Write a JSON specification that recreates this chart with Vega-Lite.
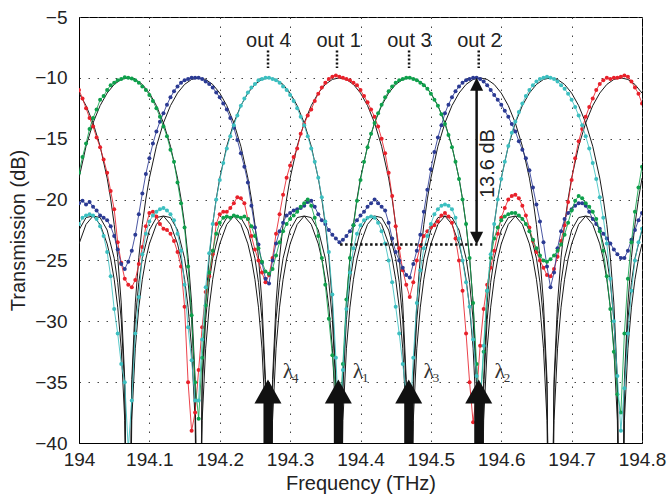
{
"$schema":"https://vega.github.io/schema/vega-lite/v6.json",
"width":563,"height":426,
"autosize":{"type":"none"},
"padding":{"left":79,"top":17,"right":26,"bottom":54},
"background":"white",
"config":{
"view":{"stroke":"#000","strokeWidth":1},
"axis":{"labelFont":"Liberation Sans","titleFont":"Liberation Sans","labelFontSize":19,"titleFontSize":20,"titleFontWeight":"normal","labelColor":"#222","titleColor":"#222","domainColor":"#000","grid":true,"gridColor":"#444","gridDash":[1.5,7.5],"gridWidth":1,"ticks":false,"tickSize":0,"labelFlush":false,"labelBound":false}
},
"datasets":{
"tg":[{"x":194,"y":-18.24},{"x":194.01,"y":-15.62},{"x":194.02,"y":-13.7},{"x":194.03,"y":-12.28},{"x":194.04,"y":-11.25},{"x":194.05,"y":-10.54},{"x":194.06,"y":-10.13},{"x":194.07,"y":-10},{"x":194.08,"y":-10.13},{"x":194.09,"y":-10.54},{"x":194.1,"y":-11.25},{"x":194.11,"y":-12.28},{"x":194.12,"y":-13.7},{"x":194.13,"y":-15.62},{"x":194.14,"y":-18.24},{"x":194.145,"y":-19.95},{"x":194.15,"y":-22.04},{"x":194.155,"y":-24.74},{"x":194.16,"y":-28.49},{"x":194.165,"y":-34.79},{"x":194.17,"y":-60},{"x":194.175,"y":-35.47},{"x":194.18,"y":-29.86},{"x":194.185,"y":-26.8},{"x":194.19,"y":-24.82},{"x":194.2,"y":-22.5},{"x":194.21,"y":-21.48},{"x":194.22,"y":-21.35},{"x":194.23,"y":-22.04},{"x":194.24,"y":-23.64},{"x":194.245,"y":-24.88},{"x":194.25,"y":-26.55},{"x":194.255,"y":-28.84},{"x":194.26,"y":-32.21},{"x":194.265,"y":-38.15},{"x":194.27,"y":-60},{"x":194.275,"y":-38.15},{"x":194.28,"y":-32.21},{"x":194.285,"y":-28.84},{"x":194.29,"y":-26.55},{"x":194.295,"y":-24.88},{"x":194.3,"y":-23.64},{"x":194.31,"y":-22.04},{"x":194.32,"y":-21.35},{"x":194.33,"y":-21.48},{"x":194.34,"y":-22.5},{"x":194.35,"y":-24.82},{"x":194.355,"y":-26.8},{"x":194.36,"y":-29.86},{"x":194.365,"y":-35.47},{"x":194.37,"y":-60},{"x":194.375,"y":-34.79},{"x":194.38,"y":-28.49},{"x":194.385,"y":-24.74},{"x":194.39,"y":-22.04},{"x":194.395,"y":-19.95},{"x":194.4,"y":-18.24},{"x":194.41,"y":-15.62},{"x":194.42,"y":-13.7},{"x":194.43,"y":-12.28},{"x":194.44,"y":-11.25},{"x":194.45,"y":-10.54},{"x":194.46,"y":-10.13},{"x":194.47,"y":-10},{"x":194.48,"y":-10.13},{"x":194.49,"y":-10.54},{"x":194.5,"y":-11.25},{"x":194.51,"y":-12.28},{"x":194.52,"y":-13.7},{"x":194.53,"y":-15.62},{"x":194.54,"y":-18.24},{"x":194.545,"y":-19.95},{"x":194.55,"y":-22.04},{"x":194.555,"y":-24.74},{"x":194.56,"y":-28.49},{"x":194.565,"y":-34.79},{"x":194.57,"y":-60},{"x":194.575,"y":-35.47},{"x":194.58,"y":-29.86},{"x":194.585,"y":-26.8},{"x":194.59,"y":-24.82},{"x":194.6,"y":-22.5},{"x":194.61,"y":-21.48},{"x":194.62,"y":-21.35},{"x":194.63,"y":-22.04},{"x":194.64,"y":-23.64},{"x":194.645,"y":-24.88},{"x":194.65,"y":-26.55},{"x":194.655,"y":-28.84},{"x":194.66,"y":-32.21},{"x":194.665,"y":-38.15},{"x":194.67,"y":-60},{"x":194.675,"y":-38.15},{"x":194.68,"y":-32.21},{"x":194.685,"y":-28.84},{"x":194.69,"y":-26.55},{"x":194.695,"y":-24.88},{"x":194.7,"y":-23.64},{"x":194.71,"y":-22.04},{"x":194.72,"y":-21.35},{"x":194.73,"y":-21.48},{"x":194.74,"y":-22.5},{"x":194.75,"y":-24.82},{"x":194.755,"y":-26.8},{"x":194.76,"y":-29.86},{"x":194.765,"y":-35.47},{"x":194.77,"y":-60},{"x":194.775,"y":-34.79},{"x":194.78,"y":-28.49},{"x":194.785,"y":-24.74},{"x":194.79,"y":-22.04},{"x":194.795,"y":-19.95},{"x":194.8,"y":-18.24}],
"tb":[{"x":194,"y":-23.64},{"x":194.01,"y":-22.04},{"x":194.02,"y":-21.35},{"x":194.03,"y":-21.48},{"x":194.04,"y":-22.5},{"x":194.05,"y":-24.82},{"x":194.055,"y":-26.8},{"x":194.06,"y":-29.86},{"x":194.065,"y":-35.47},{"x":194.07,"y":-60},{"x":194.075,"y":-34.79},{"x":194.08,"y":-28.49},{"x":194.085,"y":-24.74},{"x":194.09,"y":-22.04},{"x":194.095,"y":-19.95},{"x":194.1,"y":-18.24},{"x":194.11,"y":-15.62},{"x":194.12,"y":-13.7},{"x":194.13,"y":-12.28},{"x":194.14,"y":-11.25},{"x":194.15,"y":-10.54},{"x":194.16,"y":-10.13},{"x":194.17,"y":-10},{"x":194.18,"y":-10.13},{"x":194.19,"y":-10.54},{"x":194.2,"y":-11.25},{"x":194.21,"y":-12.28},{"x":194.22,"y":-13.7},{"x":194.23,"y":-15.62},{"x":194.24,"y":-18.24},{"x":194.245,"y":-19.95},{"x":194.25,"y":-22.04},{"x":194.255,"y":-24.74},{"x":194.26,"y":-28.49},{"x":194.265,"y":-34.79},{"x":194.27,"y":-60},{"x":194.275,"y":-35.47},{"x":194.28,"y":-29.86},{"x":194.285,"y":-26.8},{"x":194.29,"y":-24.82},{"x":194.3,"y":-22.5},{"x":194.31,"y":-21.48},{"x":194.32,"y":-21.35},{"x":194.33,"y":-22.04},{"x":194.34,"y":-23.64},{"x":194.345,"y":-24.88},{"x":194.35,"y":-26.55},{"x":194.355,"y":-28.84},{"x":194.36,"y":-32.21},{"x":194.365,"y":-38.15},{"x":194.37,"y":-60},{"x":194.375,"y":-38.15},{"x":194.38,"y":-32.21},{"x":194.385,"y":-28.84},{"x":194.39,"y":-26.55},{"x":194.395,"y":-24.88},{"x":194.4,"y":-23.64},{"x":194.41,"y":-22.04},{"x":194.42,"y":-21.35},{"x":194.43,"y":-21.48},{"x":194.44,"y":-22.5},{"x":194.45,"y":-24.82},{"x":194.455,"y":-26.8},{"x":194.46,"y":-29.86},{"x":194.465,"y":-35.47},{"x":194.47,"y":-60},{"x":194.475,"y":-34.79},{"x":194.48,"y":-28.49},{"x":194.485,"y":-24.74},{"x":194.49,"y":-22.04},{"x":194.495,"y":-19.95},{"x":194.5,"y":-18.24},{"x":194.51,"y":-15.62},{"x":194.52,"y":-13.7},{"x":194.53,"y":-12.28},{"x":194.54,"y":-11.25},{"x":194.55,"y":-10.54},{"x":194.56,"y":-10.13},{"x":194.57,"y":-10},{"x":194.58,"y":-10.13},{"x":194.59,"y":-10.54},{"x":194.6,"y":-11.25},{"x":194.61,"y":-12.28},{"x":194.62,"y":-13.7},{"x":194.63,"y":-15.62},{"x":194.64,"y":-18.24},{"x":194.645,"y":-19.95},{"x":194.65,"y":-22.04},{"x":194.655,"y":-24.74},{"x":194.66,"y":-28.49},{"x":194.665,"y":-34.79},{"x":194.67,"y":-60},{"x":194.675,"y":-35.47},{"x":194.68,"y":-29.86},{"x":194.685,"y":-26.8},{"x":194.69,"y":-24.82},{"x":194.7,"y":-22.5},{"x":194.71,"y":-21.48},{"x":194.72,"y":-21.35},{"x":194.73,"y":-22.04},{"x":194.74,"y":-23.64},{"x":194.745,"y":-24.88},{"x":194.75,"y":-26.55},{"x":194.755,"y":-28.84},{"x":194.76,"y":-32.21},{"x":194.765,"y":-38.15},{"x":194.77,"y":-60},{"x":194.775,"y":-38.15},{"x":194.78,"y":-32.21},{"x":194.785,"y":-28.84},{"x":194.79,"y":-26.55},{"x":194.795,"y":-24.88},{"x":194.8,"y":-23.64}],
"tc":[{"x":194,"y":-22.5},{"x":194.01,"y":-21.48},{"x":194.02,"y":-21.35},{"x":194.03,"y":-22.04},{"x":194.04,"y":-23.64},{"x":194.045,"y":-24.88},{"x":194.05,"y":-26.55},{"x":194.055,"y":-28.84},{"x":194.06,"y":-32.21},{"x":194.065,"y":-38.15},{"x":194.07,"y":-60},{"x":194.075,"y":-38.15},{"x":194.08,"y":-32.21},{"x":194.085,"y":-28.84},{"x":194.09,"y":-26.55},{"x":194.095,"y":-24.88},{"x":194.1,"y":-23.64},{"x":194.11,"y":-22.04},{"x":194.12,"y":-21.35},{"x":194.13,"y":-21.48},{"x":194.14,"y":-22.5},{"x":194.15,"y":-24.82},{"x":194.155,"y":-26.8},{"x":194.16,"y":-29.86},{"x":194.165,"y":-35.47},{"x":194.17,"y":-60},{"x":194.175,"y":-34.79},{"x":194.18,"y":-28.49},{"x":194.185,"y":-24.74},{"x":194.19,"y":-22.04},{"x":194.195,"y":-19.95},{"x":194.2,"y":-18.24},{"x":194.21,"y":-15.62},{"x":194.22,"y":-13.7},{"x":194.23,"y":-12.28},{"x":194.24,"y":-11.25},{"x":194.25,"y":-10.54},{"x":194.26,"y":-10.13},{"x":194.27,"y":-10},{"x":194.28,"y":-10.13},{"x":194.29,"y":-10.54},{"x":194.3,"y":-11.25},{"x":194.31,"y":-12.28},{"x":194.32,"y":-13.7},{"x":194.33,"y":-15.62},{"x":194.34,"y":-18.24},{"x":194.345,"y":-19.95},{"x":194.35,"y":-22.04},{"x":194.355,"y":-24.74},{"x":194.36,"y":-28.49},{"x":194.365,"y":-34.79},{"x":194.37,"y":-60},{"x":194.375,"y":-35.47},{"x":194.38,"y":-29.86},{"x":194.385,"y":-26.8},{"x":194.39,"y":-24.82},{"x":194.4,"y":-22.5},{"x":194.41,"y":-21.48},{"x":194.42,"y":-21.35},{"x":194.43,"y":-22.04},{"x":194.44,"y":-23.64},{"x":194.445,"y":-24.88},{"x":194.45,"y":-26.55},{"x":194.455,"y":-28.84},{"x":194.46,"y":-32.21},{"x":194.465,"y":-38.15},{"x":194.47,"y":-60},{"x":194.475,"y":-38.15},{"x":194.48,"y":-32.21},{"x":194.485,"y":-28.84},{"x":194.49,"y":-26.55},{"x":194.495,"y":-24.88},{"x":194.5,"y":-23.64},{"x":194.51,"y":-22.04},{"x":194.52,"y":-21.35},{"x":194.53,"y":-21.48},{"x":194.54,"y":-22.5},{"x":194.55,"y":-24.82},{"x":194.555,"y":-26.8},{"x":194.56,"y":-29.86},{"x":194.565,"y":-35.47},{"x":194.57,"y":-60},{"x":194.575,"y":-34.79},{"x":194.58,"y":-28.49},{"x":194.585,"y":-24.74},{"x":194.59,"y":-22.04},{"x":194.595,"y":-19.95},{"x":194.6,"y":-18.24},{"x":194.61,"y":-15.62},{"x":194.62,"y":-13.7},{"x":194.63,"y":-12.28},{"x":194.64,"y":-11.25},{"x":194.65,"y":-10.54},{"x":194.66,"y":-10.13},{"x":194.67,"y":-10},{"x":194.68,"y":-10.13},{"x":194.69,"y":-10.54},{"x":194.7,"y":-11.25},{"x":194.71,"y":-12.28},{"x":194.72,"y":-13.7},{"x":194.73,"y":-15.62},{"x":194.74,"y":-18.24},{"x":194.745,"y":-19.95},{"x":194.75,"y":-22.04},{"x":194.755,"y":-24.74},{"x":194.76,"y":-28.49},{"x":194.765,"y":-34.79},{"x":194.77,"y":-60},{"x":194.775,"y":-35.47},{"x":194.78,"y":-29.86},{"x":194.785,"y":-26.8},{"x":194.79,"y":-24.82},{"x":194.8,"y":-22.5}],
"tr":[{"x":194,"y":-11.25},{"x":194.01,"y":-12.28},{"x":194.02,"y":-13.7},{"x":194.03,"y":-15.62},{"x":194.04,"y":-18.24},{"x":194.045,"y":-19.95},{"x":194.05,"y":-22.04},{"x":194.055,"y":-24.74},{"x":194.06,"y":-28.49},{"x":194.065,"y":-34.79},{"x":194.07,"y":-60},{"x":194.075,"y":-35.47},{"x":194.08,"y":-29.86},{"x":194.085,"y":-26.8},{"x":194.09,"y":-24.82},{"x":194.1,"y":-22.5},{"x":194.11,"y":-21.48},{"x":194.12,"y":-21.35},{"x":194.13,"y":-22.04},{"x":194.14,"y":-23.64},{"x":194.145,"y":-24.88},{"x":194.15,"y":-26.55},{"x":194.155,"y":-28.84},{"x":194.16,"y":-32.21},{"x":194.165,"y":-38.15},{"x":194.17,"y":-60},{"x":194.175,"y":-38.15},{"x":194.18,"y":-32.21},{"x":194.185,"y":-28.84},{"x":194.19,"y":-26.55},{"x":194.195,"y":-24.88},{"x":194.2,"y":-23.64},{"x":194.21,"y":-22.04},{"x":194.22,"y":-21.35},{"x":194.23,"y":-21.48},{"x":194.24,"y":-22.5},{"x":194.25,"y":-24.82},{"x":194.255,"y":-26.8},{"x":194.26,"y":-29.86},{"x":194.265,"y":-35.47},{"x":194.27,"y":-60},{"x":194.275,"y":-34.79},{"x":194.28,"y":-28.49},{"x":194.285,"y":-24.74},{"x":194.29,"y":-22.04},{"x":194.295,"y":-19.95},{"x":194.3,"y":-18.24},{"x":194.31,"y":-15.62},{"x":194.32,"y":-13.7},{"x":194.33,"y":-12.28},{"x":194.34,"y":-11.25},{"x":194.35,"y":-10.54},{"x":194.36,"y":-10.13},{"x":194.37,"y":-10},{"x":194.38,"y":-10.13},{"x":194.39,"y":-10.54},{"x":194.4,"y":-11.25},{"x":194.41,"y":-12.28},{"x":194.42,"y":-13.7},{"x":194.43,"y":-15.62},{"x":194.44,"y":-18.24},{"x":194.445,"y":-19.95},{"x":194.45,"y":-22.04},{"x":194.455,"y":-24.74},{"x":194.46,"y":-28.49},{"x":194.465,"y":-34.79},{"x":194.47,"y":-60},{"x":194.475,"y":-35.47},{"x":194.48,"y":-29.86},{"x":194.485,"y":-26.8},{"x":194.49,"y":-24.82},{"x":194.5,"y":-22.5},{"x":194.51,"y":-21.48},{"x":194.52,"y":-21.35},{"x":194.53,"y":-22.04},{"x":194.54,"y":-23.64},{"x":194.545,"y":-24.88},{"x":194.55,"y":-26.55},{"x":194.555,"y":-28.84},{"x":194.56,"y":-32.21},{"x":194.565,"y":-38.15},{"x":194.57,"y":-60},{"x":194.575,"y":-38.15},{"x":194.58,"y":-32.21},{"x":194.585,"y":-28.84},{"x":194.59,"y":-26.55},{"x":194.595,"y":-24.88},{"x":194.6,"y":-23.64},{"x":194.61,"y":-22.04},{"x":194.62,"y":-21.35},{"x":194.63,"y":-21.48},{"x":194.64,"y":-22.5},{"x":194.65,"y":-24.82},{"x":194.655,"y":-26.8},{"x":194.66,"y":-29.86},{"x":194.665,"y":-35.47},{"x":194.67,"y":-60},{"x":194.675,"y":-34.79},{"x":194.68,"y":-28.49},{"x":194.685,"y":-24.74},{"x":194.69,"y":-22.04},{"x":194.695,"y":-19.95},{"x":194.7,"y":-18.24},{"x":194.71,"y":-15.62},{"x":194.72,"y":-13.7},{"x":194.73,"y":-12.28},{"x":194.74,"y":-11.25},{"x":194.75,"y":-10.54},{"x":194.76,"y":-10.13},{"x":194.77,"y":-10},{"x":194.78,"y":-10.13},{"x":194.79,"y":-10.54},{"x":194.8,"y":-11.25}],
"eg":[{"x":194,"y":-17.8},{"x":194.005,"y":-16.5},{"x":194.01,"y":-15.4},{"x":194.015,"y":-14.2},{"x":194.02,"y":-13.3},{"x":194.025,"y":-12.6},{"x":194.03,"y":-11.8},{"x":194.035,"y":-11.5},{"x":194.04,"y":-11},{"x":194.045,"y":-10.6},{"x":194.05,"y":-10.4},{"x":194.055,"y":-10.2},{"x":194.06,"y":-10.1},{"x":194.065,"y":-9.95},{"x":194.07,"y":-10},{"x":194.075,"y":-10.05},{"x":194.08,"y":-10.2},{"x":194.085,"y":-10.4},{"x":194.09,"y":-10.7},{"x":194.095,"y":-11},{"x":194.1,"y":-11.4},{"x":194.105,"y":-11.9},{"x":194.11,"y":-12.5},{"x":194.115,"y":-13.2},{"x":194.12,"y":-14},{"x":194.125,"y":-14.8},{"x":194.13,"y":-15.9},{"x":194.135,"y":-16.9},{"x":194.14,"y":-18.6},{"x":194.145,"y":-20.3},{"x":194.15,"y":-22.3},{"x":194.155,"y":-25.5},{"x":194.16,"y":-29.5},{"x":194.165,"y":-35},{"x":194.17,"y":-38},{"x":194.175,"y":-33},{"x":194.18,"y":-28.7},{"x":194.185,"y":-26},{"x":194.19,"y":-24.2},{"x":194.195,"y":-22.8},{"x":194.2,"y":-21.9},{"x":194.205,"y":-21.5},{"x":194.21,"y":-21.4},{"x":194.215,"y":-21.5},{"x":194.22,"y":-21.3},{"x":194.225,"y":-21.4},{"x":194.23,"y":-21.5},{"x":194.235,"y":-21.4},{"x":194.24,"y":-21.6},{"x":194.245,"y":-22.2},{"x":194.25,"y":-23},{"x":194.255,"y":-24},{"x":194.26,"y":-25.1},{"x":194.265,"y":-25.9},{"x":194.27,"y":-26.1},{"x":194.275,"y":-25.7},{"x":194.28,"y":-24.6},{"x":194.285,"y":-23.5},{"x":194.29,"y":-22.6},{"x":194.295,"y":-22},{"x":194.3,"y":-21.6},{"x":194.305,"y":-21.3},{"x":194.31,"y":-21},{"x":194.315,"y":-20.6},{"x":194.32,"y":-20.3},{"x":194.325,"y":-20},{"x":194.33,"y":-20.5},{"x":194.335,"y":-21.5},{"x":194.34,"y":-23},{"x":194.345,"y":-24.8},{"x":194.35,"y":-27},{"x":194.355,"y":-29.8},{"x":194.36,"y":-32.8},{"x":194.365,"y":-35.8},{"x":194.37,"y":-38.5},{"x":194.375,"y":-33.5},{"x":194.38,"y":-28.2},{"x":194.385,"y":-24.8},{"x":194.39,"y":-22.1},{"x":194.395,"y":-20.1},{"x":194.4,"y":-18.4},{"x":194.405,"y":-16.9},{"x":194.41,"y":-15.7},{"x":194.415,"y":-14.6},{"x":194.42,"y":-13.7},{"x":194.425,"y":-12.9},{"x":194.43,"y":-12.2},{"x":194.435,"y":-11.6},{"x":194.44,"y":-11.1},{"x":194.445,"y":-10.7},{"x":194.45,"y":-10.4},{"x":194.455,"y":-10.2},{"x":194.46,"y":-10.1},{"x":194.465,"y":-10},{"x":194.47,"y":-10},{"x":194.475,"y":-10.1},{"x":194.48,"y":-10.2},{"x":194.485,"y":-10.4},{"x":194.49,"y":-10.6},{"x":194.495,"y":-10.9},{"x":194.5,"y":-11.3},{"x":194.505,"y":-11.8},{"x":194.51,"y":-12.3},{"x":194.515,"y":-13},{"x":194.52,"y":-13.8},{"x":194.525,"y":-14.7},{"x":194.53,"y":-15.7},{"x":194.535,"y":-16.9},{"x":194.54,"y":-18.3},{"x":194.545,"y":-20},{"x":194.55,"y":-22},{"x":194.555,"y":-24.8},{"x":194.56,"y":-28.5},{"x":194.565,"y":-33.5},{"x":194.57,"y":-37},{"x":194.575,"y":-32.5},{"x":194.58,"y":-27.5},{"x":194.585,"y":-24.8},{"x":194.59,"y":-23.2},{"x":194.595,"y":-22.3},{"x":194.6,"y":-21.7},{"x":194.605,"y":-21.4},{"x":194.61,"y":-21.2},{"x":194.615,"y":-21.1},{"x":194.62,"y":-21.1},{"x":194.625,"y":-21.3},{"x":194.63,"y":-21.6},{"x":194.635,"y":-22},{"x":194.64,"y":-22.6},{"x":194.645,"y":-23.3},{"x":194.65,"y":-24},{"x":194.655,"y":-24.6},{"x":194.66,"y":-25},{"x":194.665,"y":-25.1},{"x":194.67,"y":-24.9},{"x":194.675,"y":-24.6},{"x":194.68,"y":-24.2},{"x":194.685,"y":-23.7},{"x":194.69,"y":-22.9},{"x":194.695,"y":-21.9},{"x":194.7,"y":-20.9},{"x":194.705,"y":-20.1},{"x":194.71,"y":-19.7},{"x":194.715,"y":-19.9},{"x":194.72,"y":-20.3},{"x":194.725,"y":-20.6},{"x":194.73,"y":-21},{"x":194.735,"y":-21.6},{"x":194.74,"y":-22.6},{"x":194.745,"y":-24.2},{"x":194.75,"y":-26.3},{"x":194.755,"y":-29},{"x":194.76,"y":-32.5},{"x":194.765,"y":-36},{"x":194.77,"y":-37.5},{"x":194.775,"y":-31},{"x":194.78,"y":-26.5},{"x":194.785,"y":-23.5},{"x":194.79,"y":-21},{"x":194.795,"y":-19},{"x":194.8,"y":-17.3}],
"eb":[{"x":194,"y":-20.3},{"x":194.005,"y":-20.1},{"x":194.01,"y":-20.4},{"x":194.015,"y":-20.2},{"x":194.02,"y":-20.6},{"x":194.025,"y":-20.9},{"x":194.03,"y":-21.3},{"x":194.035,"y":-21.5},{"x":194.04,"y":-21.7},{"x":194.045,"y":-22.2},{"x":194.05,"y":-23},{"x":194.055,"y":-24.1},{"x":194.06,"y":-25.3},{"x":194.065,"y":-25.7},{"x":194.07,"y":-25.1},{"x":194.075,"y":-24.2},{"x":194.08,"y":-22.9},{"x":194.085,"y":-21.2},{"x":194.09,"y":-19.5},{"x":194.095,"y":-17.9},{"x":194.1,"y":-16.6},{"x":194.105,"y":-15.4},{"x":194.11,"y":-14.4},{"x":194.115,"y":-13.6},{"x":194.12,"y":-12.9},{"x":194.125,"y":-12.2},{"x":194.13,"y":-11.6},{"x":194.135,"y":-11.1},{"x":194.14,"y":-10.7},{"x":194.145,"y":-10.4},{"x":194.15,"y":-10.2},{"x":194.155,"y":-10.1},{"x":194.16,"y":-10},{"x":194.165,"y":-10},{"x":194.17,"y":-10},{"x":194.175,"y":-10.1},{"x":194.18,"y":-10.3},{"x":194.185,"y":-10.5},{"x":194.19,"y":-10.8},{"x":194.195,"y":-11.2},{"x":194.2,"y":-11.6},{"x":194.205,"y":-12.1},{"x":194.21,"y":-12.6},{"x":194.215,"y":-13.3},{"x":194.22,"y":-14.1},{"x":194.225,"y":-15.1},{"x":194.23,"y":-16.2},{"x":194.235,"y":-17.3},{"x":194.24,"y":-18.6},{"x":194.245,"y":-20.5},{"x":194.25,"y":-22.3},{"x":194.255,"y":-23.7},{"x":194.26,"y":-25.2},{"x":194.265,"y":-26.5},{"x":194.27,"y":-26.9},{"x":194.275,"y":-25},{"x":194.28,"y":-23.6},{"x":194.285,"y":-22.6},{"x":194.29,"y":-21.9},{"x":194.295,"y":-21.3},{"x":194.3,"y":-21.1},{"x":194.305,"y":-20.9},{"x":194.31,"y":-20.8},{"x":194.315,"y":-20.7},{"x":194.32,"y":-20.5},{"x":194.325,"y":-20.2},{"x":194.33,"y":-20.1},{"x":194.335,"y":-20.6},{"x":194.34,"y":-21.2},{"x":194.345,"y":-21.7},{"x":194.35,"y":-22},{"x":194.355,"y":-22.5},{"x":194.36,"y":-22.9},{"x":194.365,"y":-23.2},{"x":194.37,"y":-23.5},{"x":194.375,"y":-23.3},{"x":194.38,"y":-23},{"x":194.385,"y":-22.6},{"x":194.39,"y":-22.1},{"x":194.395,"y":-21.7},{"x":194.4,"y":-21.3},{"x":194.405,"y":-21},{"x":194.41,"y":-20.6},{"x":194.415,"y":-20.3},{"x":194.42,"y":-20},{"x":194.425,"y":-20.3},{"x":194.43,"y":-20.6},{"x":194.435,"y":-20.9},{"x":194.44,"y":-21.9},{"x":194.445,"y":-23.2},{"x":194.45,"y":-24.3},{"x":194.455,"y":-25},{"x":194.46,"y":-25.6},{"x":194.465,"y":-26.2},{"x":194.47,"y":-26.4},{"x":194.475,"y":-25.3},{"x":194.48,"y":-24.2},{"x":194.485,"y":-22.9},{"x":194.49,"y":-21},{"x":194.495,"y":-19.2},{"x":194.5,"y":-17.5},{"x":194.505,"y":-16.1},{"x":194.51,"y":-14.9},{"x":194.515,"y":-13.9},{"x":194.52,"y":-12.9},{"x":194.525,"y":-12.2},{"x":194.53,"y":-11.6},{"x":194.535,"y":-11.1},{"x":194.54,"y":-10.7},{"x":194.545,"y":-10.4},{"x":194.55,"y":-10.2},{"x":194.555,"y":-10.1},{"x":194.56,"y":-10},{"x":194.565,"y":-10},{"x":194.57,"y":-10.1},{"x":194.575,"y":-10.3},{"x":194.58,"y":-10.6},{"x":194.585,"y":-11},{"x":194.59,"y":-11.4},{"x":194.595,"y":-11.8},{"x":194.6,"y":-12.2},{"x":194.605,"y":-12.7},{"x":194.61,"y":-13.2},{"x":194.615,"y":-13.8},{"x":194.62,"y":-14.4},{"x":194.625,"y":-15.2},{"x":194.63,"y":-15.9},{"x":194.635,"y":-16.6},{"x":194.64,"y":-17.6},{"x":194.645,"y":-19},{"x":194.65,"y":-20.4},{"x":194.655,"y":-21.8},{"x":194.66,"y":-23.5},{"x":194.665,"y":-25.5},{"x":194.67,"y":-27.2},{"x":194.675,"y":-26},{"x":194.68,"y":-24},{"x":194.685,"y":-22.6},{"x":194.69,"y":-21.6},{"x":194.695,"y":-21.1},{"x":194.7,"y":-20.8},{"x":194.705,"y":-20.5},{"x":194.71,"y":-20.3},{"x":194.715,"y":-20.3},{"x":194.72,"y":-20.5},{"x":194.725,"y":-21},{"x":194.73,"y":-21.6},{"x":194.735,"y":-22},{"x":194.74,"y":-22.4},{"x":194.745,"y":-22.8},{"x":194.75,"y":-23.2},{"x":194.755,"y":-23.6},{"x":194.76,"y":-24.1},{"x":194.765,"y":-24.5},{"x":194.77,"y":-24.8},{"x":194.775,"y":-24.8},{"x":194.78,"y":-24.2},{"x":194.785,"y":-23.3},{"x":194.79,"y":-22.5},{"x":194.795,"y":-21.7},{"x":194.8,"y":-21.1}],
"ec":[{"x":194,"y":-22},{"x":194.005,"y":-21.5},{"x":194.01,"y":-21.3},{"x":194.015,"y":-21.2},{"x":194.02,"y":-21.3},{"x":194.025,"y":-21.6},{"x":194.03,"y":-22.2},{"x":194.035,"y":-23},{"x":194.04,"y":-24.3},{"x":194.045,"y":-26.3},{"x":194.05,"y":-29},{"x":194.055,"y":-31},{"x":194.06,"y":-33.5},{"x":194.065,"y":-35},{"x":194.07,"y":-40.5},{"x":194.075,"y":-36.5},{"x":194.08,"y":-31},{"x":194.085,"y":-28},{"x":194.09,"y":-24.5},{"x":194.095,"y":-22.8},{"x":194.1,"y":-21.8},{"x":194.105,"y":-21.3},{"x":194.11,"y":-21},{"x":194.115,"y":-20.8},{"x":194.12,"y":-20.7},{"x":194.125,"y":-20.9},{"x":194.13,"y":-21.2},{"x":194.135,"y":-21.7},{"x":194.14,"y":-22.8},{"x":194.145,"y":-24.2},{"x":194.15,"y":-27},{"x":194.155,"y":-30.5},{"x":194.16,"y":-33.2},{"x":194.165,"y":-36.5},{"x":194.17,"y":-36.5},{"x":194.175,"y":-31.5},{"x":194.18,"y":-27.2},{"x":194.185,"y":-24.4},{"x":194.19,"y":-22},{"x":194.195,"y":-20},{"x":194.2,"y":-18.4},{"x":194.205,"y":-17},{"x":194.21,"y":-15.8},{"x":194.215,"y":-14.8},{"x":194.22,"y":-13.9},{"x":194.225,"y":-13.1},{"x":194.23,"y":-12.3},{"x":194.235,"y":-11.7},{"x":194.24,"y":-11.2},{"x":194.245,"y":-10.8},{"x":194.25,"y":-10.5},{"x":194.255,"y":-10.2},{"x":194.26,"y":-10.1},{"x":194.265,"y":-10},{"x":194.27,"y":-10},{"x":194.275,"y":-10.1},{"x":194.28,"y":-10.2},{"x":194.285,"y":-10.4},{"x":194.29,"y":-10.7},{"x":194.295,"y":-11},{"x":194.3,"y":-11.4},{"x":194.305,"y":-11.9},{"x":194.31,"y":-12.5},{"x":194.315,"y":-13.2},{"x":194.32,"y":-13.9},{"x":194.325,"y":-14.8},{"x":194.33,"y":-15.8},{"x":194.335,"y":-16.9},{"x":194.34,"y":-18.2},{"x":194.345,"y":-19.8},{"x":194.35,"y":-21.8},{"x":194.355,"y":-24.3},{"x":194.36,"y":-27.8},{"x":194.365,"y":-33},{"x":194.37,"y":-39},{"x":194.375,"y":-34},{"x":194.38,"y":-29},{"x":194.385,"y":-26},{"x":194.39,"y":-24},{"x":194.395,"y":-22.8},{"x":194.4,"y":-22.1},{"x":194.405,"y":-21.7},{"x":194.41,"y":-21.5},{"x":194.415,"y":-21.4},{"x":194.42,"y":-21.5},{"x":194.425,"y":-21.9},{"x":194.43,"y":-22.6},{"x":194.435,"y":-23.6},{"x":194.44,"y":-25},{"x":194.445,"y":-26.8},{"x":194.45,"y":-28.8},{"x":194.455,"y":-31},{"x":194.46,"y":-33.5},{"x":194.465,"y":-36},{"x":194.47,"y":-38.5},{"x":194.475,"y":-33},{"x":194.48,"y":-28.5},{"x":194.485,"y":-25.8},{"x":194.49,"y":-24},{"x":194.495,"y":-23},{"x":194.5,"y":-22},{"x":194.505,"y":-21.2},{"x":194.51,"y":-20.8},{"x":194.515,"y":-20.5},{"x":194.52,"y":-20.4},{"x":194.525,"y":-20.5},{"x":194.53,"y":-20.8},{"x":194.535,"y":-21.5},{"x":194.54,"y":-23.2},{"x":194.545,"y":-25},{"x":194.55,"y":-26.8},{"x":194.555,"y":-28.8},{"x":194.56,"y":-31.5},{"x":194.565,"y":-34.5},{"x":194.57,"y":-36.8},{"x":194.575,"y":-32},{"x":194.58,"y":-27.5},{"x":194.585,"y":-24.5},{"x":194.59,"y":-22},{"x":194.595,"y":-20},{"x":194.6,"y":-18.3},{"x":194.605,"y":-16.9},{"x":194.61,"y":-15.6},{"x":194.615,"y":-14.5},{"x":194.62,"y":-13.6},{"x":194.625,"y":-12.8},{"x":194.63,"y":-12.1},{"x":194.635,"y":-11.5},{"x":194.64,"y":-11},{"x":194.645,"y":-10.6},{"x":194.65,"y":-10.3},{"x":194.655,"y":-10.1},{"x":194.66,"y":-10},{"x":194.665,"y":-9.9},{"x":194.67,"y":-10},{"x":194.675,"y":-10.1},{"x":194.68,"y":-10.3},{"x":194.685,"y":-10.6},{"x":194.69,"y":-10.9},{"x":194.695,"y":-11.3},{"x":194.7,"y":-11.8},{"x":194.705,"y":-12.4},{"x":194.71,"y":-13.1},{"x":194.715,"y":-13.9},{"x":194.72,"y":-14.8},{"x":194.725,"y":-15.8},{"x":194.73,"y":-17},{"x":194.735,"y":-18.3},{"x":194.74,"y":-19.8},{"x":194.745,"y":-21.5},{"x":194.75,"y":-23.6},{"x":194.755,"y":-26.5},{"x":194.76,"y":-30},{"x":194.765,"y":-34.5},{"x":194.77,"y":-39},{"x":194.775,"y":-35.5},{"x":194.78,"y":-31},{"x":194.785,"y":-27.5},{"x":194.79,"y":-25},{"x":194.795,"y":-23.5},{"x":194.8,"y":-22.4}],
"er":[{"x":194,"y":-11},{"x":194.005,"y":-11.7},{"x":194.01,"y":-12.5},{"x":194.015,"y":-13.3},{"x":194.02,"y":-14},{"x":194.025,"y":-14.9},{"x":194.03,"y":-15.7},{"x":194.035,"y":-16.7},{"x":194.04,"y":-17.8},{"x":194.045,"y":-19.3},{"x":194.05,"y":-20.8},{"x":194.055,"y":-23.5},{"x":194.06,"y":-25.2},{"x":194.065,"y":-26.5},{"x":194.07,"y":-27},{"x":194.075,"y":-27.2},{"x":194.08,"y":-26.6},{"x":194.085,"y":-25.3},{"x":194.09,"y":-23.9},{"x":194.095,"y":-22.2},{"x":194.1,"y":-21.1},{"x":194.105,"y":-21},{"x":194.11,"y":-21.4},{"x":194.115,"y":-22},{"x":194.12,"y":-22.4},{"x":194.125,"y":-22.5},{"x":194.13,"y":-22.8},{"x":194.135,"y":-23.4},{"x":194.14,"y":-24.3},{"x":194.145,"y":-25.5},{"x":194.15,"y":-28.8},{"x":194.155,"y":-35},{"x":194.16,"y":-39},{"x":194.165,"y":-37.5},{"x":194.17,"y":-34},{"x":194.175,"y":-30.5},{"x":194.18,"y":-27.6},{"x":194.185,"y":-26.3},{"x":194.19,"y":-24.5},{"x":194.195,"y":-22},{"x":194.2,"y":-21.2},{"x":194.205,"y":-21},{"x":194.21,"y":-21},{"x":194.215,"y":-20.7},{"x":194.22,"y":-20.3},{"x":194.225,"y":-19.8},{"x":194.23,"y":-19.9},{"x":194.235,"y":-20.3},{"x":194.24,"y":-21.6},{"x":194.245,"y":-23},{"x":194.25,"y":-24.1},{"x":194.255,"y":-25},{"x":194.26,"y":-26},{"x":194.265,"y":-26.8},{"x":194.27,"y":-26.2},{"x":194.275,"y":-24.8},{"x":194.28,"y":-22.8},{"x":194.285,"y":-21.2},{"x":194.29,"y":-19.6},{"x":194.295,"y":-18.2},{"x":194.3,"y":-17.2},{"x":194.305,"y":-16.5},{"x":194.31,"y":-15.8},{"x":194.315,"y":-14.6},{"x":194.32,"y":-13.8},{"x":194.325,"y":-13.1},{"x":194.33,"y":-12.6},{"x":194.335,"y":-11.9},{"x":194.34,"y":-11.3},{"x":194.345,"y":-10.8},{"x":194.35,"y":-10.4},{"x":194.355,"y":-10.1},{"x":194.36,"y":-9.9},{"x":194.365,"y":-9.8},{"x":194.37,"y":-9.9},{"x":194.375,"y":-10},{"x":194.38,"y":-10.1},{"x":194.385,"y":-10.2},{"x":194.39,"y":-10.4},{"x":194.395,"y":-10.6},{"x":194.4,"y":-11},{"x":194.405,"y":-11.5},{"x":194.41,"y":-12},{"x":194.415,"y":-12.6},{"x":194.42,"y":-13.2},{"x":194.425,"y":-14},{"x":194.43,"y":-15},{"x":194.435,"y":-16.2},{"x":194.44,"y":-17.8},{"x":194.445,"y":-19.7},{"x":194.45,"y":-22.2},{"x":194.455,"y":-24},{"x":194.46,"y":-25.8},{"x":194.465,"y":-27},{"x":194.47,"y":-28},{"x":194.475,"y":-26.8},{"x":194.48,"y":-25},{"x":194.485,"y":-23.8},{"x":194.49,"y":-23},{"x":194.495,"y":-22.6},{"x":194.5,"y":-22.3},{"x":194.505,"y":-22.1},{"x":194.51,"y":-21.8},{"x":194.515,"y":-21.3},{"x":194.52,"y":-21.1},{"x":194.525,"y":-21.4},{"x":194.53,"y":-21.9},{"x":194.535,"y":-23.2},{"x":194.54,"y":-25},{"x":194.545,"y":-27.5},{"x":194.55,"y":-31},{"x":194.555,"y":-35},{"x":194.56,"y":-38.3},{"x":194.565,"y":-36},{"x":194.57,"y":-32},{"x":194.575,"y":-29},{"x":194.58,"y":-27},{"x":194.585,"y":-25.6},{"x":194.59,"y":-24.2},{"x":194.595,"y":-22.8},{"x":194.6,"y":-21.5},{"x":194.605,"y":-20.7},{"x":194.61,"y":-20},{"x":194.615,"y":-19.7},{"x":194.62,"y":-19.6},{"x":194.625,"y":-19.9},{"x":194.63,"y":-20.5},{"x":194.635,"y":-21.3},{"x":194.64,"y":-22.3},{"x":194.645,"y":-23.4},{"x":194.65,"y":-24.3},{"x":194.655,"y":-25},{"x":194.66,"y":-25.6},{"x":194.665,"y":-26.2},{"x":194.67,"y":-26.3},{"x":194.675,"y":-25.7},{"x":194.68,"y":-24.7},{"x":194.685,"y":-23.4},{"x":194.69,"y":-22.1},{"x":194.695,"y":-20.2},{"x":194.7,"y":-18.4},{"x":194.705,"y":-16.6},{"x":194.71,"y":-15.2},{"x":194.715,"y":-14.2},{"x":194.72,"y":-13.2},{"x":194.725,"y":-12.4},{"x":194.73,"y":-11.7},{"x":194.735,"y":-11},{"x":194.74,"y":-10.5},{"x":194.745,"y":-10.2},{"x":194.75,"y":-10},{"x":194.755,"y":-10.1},{"x":194.76,"y":-10},{"x":194.765,"y":-10},{"x":194.77,"y":-9.9},{"x":194.775,"y":-9.8},{"x":194.78,"y":-9.9},{"x":194.785,"y":-10.3},{"x":194.79,"y":-10.8},{"x":194.795,"y":-11.3},{"x":194.8,"y":-12.1}],
"outs":[{"x":194.269,"y":-7.45,"t":"out 4"},{"x":194.369,"y":-7.45,"t":"out 1"},{"x":194.4695,"y":-7.45,"t":"out 3"},{"x":194.569,"y":-7.45,"t":"out 2"}],
"outlines":[{"x":194.2686,"y":-7.75,"y2":-9.2},{"x":194.3666,"y":-7.75,"y2":-9.2},{"x":194.469,"y":-7.75,"y2":-9.2},{"x":194.568,"y":-7.75,"y2":-9.2}],
"hline":[{"x":194.371,"x2":194.573,"y":-23.7}],
"dshaft":[{"x":194.565,"y":-10.6,"y2":-23.1}],
"dup":[{"x":194.565,"y":-10.53}],
"ddown":[{"x":194.565,"y":-23.17}],
"dbtext":[{"x":194.581,"y":-17.04,"t":"13.6 dB"}],
"bshaft":[{"x":194.2685,"y":-40,"y2":-36.5},{"x":194.3685,"y":-40,"y2":-36.5},{"x":194.4685,"y":-40,"y2":-36.5},{"x":194.568,"y":-40,"y2":-36.5}],
"bhead":[{"x":194.2685,"y":-35.76},{"x":194.3685,"y":-35.76},{"x":194.4685,"y":-35.76},{"x":194.568,"y":-35.76}],
"lam":[{"x":194.297,"y":-34.1,"t":"λ","s":"4"},{"x":194.3965,"y":-34.1,"t":"λ","s":"1"},{"x":194.497,"y":-34.1,"t":"λ","s":"3"},{"x":194.598,"y":-34.1,"t":"λ","s":"2"}]
},
"encoding":{
"x":{"field":"x","type":"quantitative","scale":{"domain":[194,194.8],"nice":false,"zero":false},"axis":{"values":[194,194.1,194.2,194.3,194.4,194.5,194.6,194.7,194.8],"format":"~g","title":"Frequency (THz)","labelPadding":7,"titlePadding":4}},
"y":{"field":"y","type":"quantitative","scale":{"domain":[-40,-5],"nice":false,"zero":false},"axis":{"values":[-40,-35,-30,-25,-20,-15,-10,-5],"format":"d","title":"Transmission (dB)","labelPadding":12,"titlePadding":6}}
},
"layer":[
{"data":{"name":"tg"},"mark":{"type":"line","color":"#1a1a1a","strokeWidth":1,"clip":true}},
{"data":{"name":"tb"},"mark":{"type":"line","color":"#1a1a1a","strokeWidth":1,"clip":true}},
{"data":{"name":"tc"},"mark":{"type":"line","color":"#1a1a1a","strokeWidth":1,"clip":true}},
{"data":{"name":"tr"},"mark":{"type":"line","color":"#1a1a1a","strokeWidth":1,"clip":true}},
{"data":{"name":"er"},"mark":{"type":"line","color":"#E8202A","strokeWidth":1,"opacity":0.85,"clip":true}},
{"data":{"name":"er"},"mark":{"type":"point","shape":"circle","filled":true,"size":16,"color":"#E8202A","opacity":1,"clip":true}},
{"data":{"name":"eb"},"mark":{"type":"line","color":"#2B3A93","strokeWidth":1,"opacity":0.85,"clip":true}},
{"data":{"name":"eb"},"mark":{"type":"point","shape":"circle","filled":true,"size":16,"color":"#2B3A93","opacity":1,"clip":true}},
{"data":{"name":"eg"},"mark":{"type":"line","color":"#0EA04B","strokeWidth":1,"opacity":0.85,"clip":true}},
{"data":{"name":"eg"},"mark":{"type":"point","shape":"circle","filled":true,"size":16,"color":"#0EA04B","opacity":1,"clip":true}},
{"data":{"name":"ec"},"mark":{"type":"line","color":"#3CBFC0","strokeWidth":1,"opacity":0.85,"clip":true}},
{"data":{"name":"ec"},"mark":{"type":"point","shape":"circle","filled":true,"size":16,"color":"#3CBFC0","opacity":1,"clip":true}},
{"data":{"name":"outlines"},"mark":{"type":"rule","color":"#111","strokeWidth":2.5,"strokeDash":[2,2]},"encoding":{"y2":{"field":"y2"}}},
{"data":{"name":"outs"},"mark":{"type":"text","font":"Liberation Sans","fontSize":20,"color":"#222","align":"center","baseline":"alphabetic"},"encoding":{"text":{"field":"t"}}},
{"data":{"name":"hline"},"mark":{"type":"rule","color":"#111","strokeWidth":2.5,"strokeDash":[2.5,2.5]},"encoding":{"x2":{"field":"x2"}}},
{"data":{"name":"dshaft"},"mark":{"type":"rule","color":"#111","strokeWidth":2.5},"encoding":{"y2":{"field":"y2"}}},
{"data":{"name":"dup"},"mark":{"type":"point","shape":"M0,-1L-1,1L1,1Z","size":169,"filled":true,"color":"#111","opacity":1,"strokeWidth":0}},
{"data":{"name":"ddown"},"mark":{"type":"point","shape":"M0,1L-1,-1L1,-1Z","size":169,"filled":true,"color":"#111","opacity":1,"strokeWidth":0}},
{"data":{"name":"dbtext"},"mark":{"type":"text","font":"Liberation Sans","fontSize":20,"color":"#222","align":"center","baseline":"middle","angle":270},"encoding":{"text":{"field":"t"}}},
{"data":{"name":"bshaft"},"mark":{"type":"rule","color":"#111","strokeWidth":9},"encoding":{"y2":{"field":"y2"}}},
{"data":{"name":"bhead"},"mark":{"type":"point","shape":"M0,-0.89L-1,0.89L1,0.89Z","size":729,"filled":true,"color":"#111","opacity":1,"strokeWidth":0}},
{"data":{"name":"lam"},"mark":{"type":"text","font":"Liberation Serif","fontSize":22,"color":"#333","align":"center","baseline":"middle"},"encoding":{"text":{"field":"t"}}},
{"data":{"name":"lam"},"mark":{"type":"text","font":"Liberation Serif","fontSize":13,"color":"#333","align":"left","baseline":"middle","dx":4,"dy":7},"encoding":{"text":{"field":"s"}}}
]
}
